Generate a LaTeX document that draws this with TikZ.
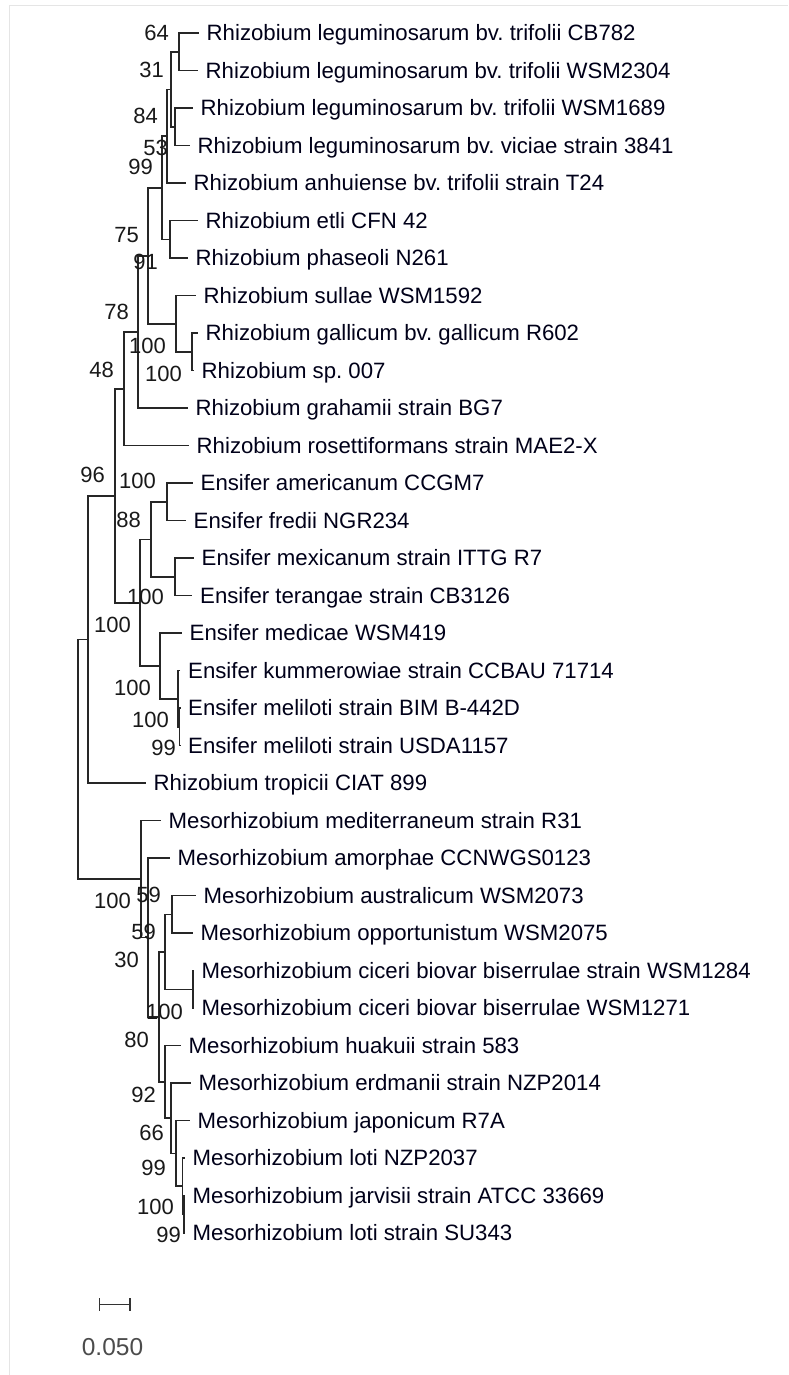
\documentclass[tikz,border=0pt]{standalone}
\usepackage{fontspec}
\setmainfont{Liberation Sans}
\frenchspacing
\begin{document}
\begin{tikzpicture}[x=1pt,y=-1pt,
  br/.style={line width=1.6pt, draw=black!85},
  leaf/.style={anchor=base west, inner sep=0pt, font=\fontsize{22.2}{26}\selectfont, text=black!90!blue},
  boot/.style={anchor=base east, inner sep=0pt, font=\fontsize{22}{26}\selectfont, text=black!90},
  scalelbl/.style={anchor=base, inner sep=0pt, font=\fontsize{24.5}{28}\selectfont, text=black!70}]
\useasboundingbox (0,0) rectangle (788,1375);
\fill[white] (0,0) rectangle (788,1375);
\draw[black!10, line width=1pt] (9,1375) -- (9,6) -- (788,6);

% leaves: index / branch end x / label
\foreach \i/\xe/\txt in {
 1/198.5/{Rhizobium leguminosarum bv. trifolii CB782},
 2/197.5/{Rhizobium leguminosarum bv. trifolii WSM2304},
 3/192.5/{Rhizobium leguminosarum bv. trifolii WSM1689},
 4/189.5/{Rhizobium leguminosarum bv. viciae strain 3841},
 5/185.5/{Rhizobium anhuiense bv. trifolii strain T24},
 6/197.5/{Rhizobium etli CFN 42},
 7/187.5/{Rhizobium phaseoli N261},
 8/195.5/{Rhizobium sullae WSM1592},
 9/197.5/{Rhizobium gallicum bv. gallicum R602},
 10/193.5/{Rhizobium sp. 007},
 11/187.5/{Rhizobium grahamii strain BG7},
 12/188.5/{Rhizobium rosettiformans strain MAE2-X},
 13/192.5/{Ensifer americanum CCGM7},
 14/185.5/{Ensifer fredii NGR234},
 15/193.5/{Ensifer mexicanum strain ITTG R7},
 16/192/{Ensifer terangae strain CB3126},
 17/181.5/{Ensifer medicae WSM419},
 18/180/{Ensifer kummerowiae strain CCBAU 71714},
 19/180/{Ensifer meliloti strain BIM B-442D},
 20/180/{Ensifer meliloti strain USDA1157},
 21/145.5/{Rhizobium tropicii CIAT 899},
 22/160.5/{Mesorhizobium mediterraneum strain R31},
 23/169.5/{Mesorhizobium amorphae CCNWGS0123},
 24/195.5/{Mesorhizobium australicum WSM2073},
 25/192.5/{Mesorhizobium opportunistum WSM2075},
 26/193.5/{Mesorhizobium ciceri biovar biserrulae strain WSM1284},
 27/193.5/{Mesorhizobium ciceri biovar biserrulae WSM1271},
 28/180.5/{Mesorhizobium huakuii strain 583},
 29/190.5/{Mesorhizobium erdmanii strain NZP2014},
 30/189.5/{Mesorhizobium japonicum R7A},
 31/184.5/{Mesorhizobium loti NZP2037},
 32/184.5/{Mesorhizobium jarvisii strain ATCC 33669},
 33/184.5/{Mesorhizobium loti strain SU343}}{
  \coordinate (l\i) at (\xe, {33+37.5*(\i-1)});
  \node[leaf] (t\i) at ({\xe+8}, {33+37.5*(\i-1)+7.9}) {\txt};
}

% internal nodes
\coordinate (A) at (179,52);
\coordinate (B) at (175,127);
\coordinate (C) at (171,89.5);
\coordinate (D) at (167,136.25);
\coordinate (E) at (170,239.5);
\coordinate (F) at (162,187.9);
\coordinate (H9) at (192,352);
\coordinate (H) at (176,324);
\coordinate (G) at (148,256);
\coordinate (I) at (138,332);
\coordinate (J) at (124,389);
\coordinate (E1) at (167,502);
\coordinate (E2) at (175,577);
\coordinate (L) at (151,539.5);
\coordinate (N19) at (179.5,727);
\coordinate (N18) at (178,699);
\coordinate (M) at (160,666);
\coordinate (N) at (140,603);
\coordinate (K) at (115,496);
\coordinate (O) at (88,639.5);
\coordinate (P1) at (172,914.5);
\coordinate (P2) at (193,989.5);
\coordinate (P) at (165,952);
\coordinate (Z) at (184,1214.5);
\coordinate (Y) at (182.5,1186);
\coordinate (Q) at (176,1153.5);
\coordinate (R) at (171,1118);
\coordinate (S) at (165,1082);
\coordinate (T) at (159,1017);
\coordinate (U) at (148,937.5);
\coordinate (V) at (141,879);
\coordinate (root) at (78,759);

% branches
\draw[br] (l1) -| (A) |- (l2);
\draw[br] (l3) -| (B) |- (l4);
\draw[br] (A) -| (C) |- (B);
\draw[br] (C) -| (D) |- (l5);
\draw[br] (l6) -| (E) |- (l7);
\draw[br] (D) -| (F) |- (E);
\draw[br] (l9) -| (H9) |- (l10);
\draw[br] (l8) -| (H) |- (H9);
\draw[br] (F) -| (G) |- (H);
\draw[br] (G) -| (I) |- (l11);
\draw[br] (I) -| (J) |- (l12);
\draw[br] (l13) -| (E1) |- (l14);
\draw[br] (l15) -| (E2) |- (l16);
\draw[br] (E1) -| (L) |- (E2);
\draw[br] (l19) -| (N19) |- (l20);
\draw[br] (l18) -| (N18) |- (N19);
\draw[br] (l17) -| (M) |- (N18);
\draw[br] (L) -| (N) |- (M);
\draw[br] (J) -| (K) |- (N);
\draw[br] (K) -| (O) |- (l21);
\draw[br] (l24) -| (P1) |- (l25);
\draw[br] (l26) -| (P2) |- (l27);
\draw[br] (P1) -| (P) |- (P2);
\draw[br] (l32) -| (Z) |- (l33);
\draw[br] (l31) -| (Y) |- (Z);
\draw[br] (l30) -| (Q) |- (Y);
\draw[br] (l29) -| (R) |- (Q);
\draw[br] (l28) -| (S) |- (R);
\draw[br] (P) -| (T) |- (S);
\draw[br] (l23) -| (U) |- (T);
\draw[br] (l22) -| (V) |- (U);
\draw[br] (O) -| (root) |- (V);

% bootstrap values: right x / centre y / value
\foreach \k/\bx/\by/\v in {
 1/168/33/64, 2/163/70/31, 3/157/116/84, 4/167/148/53, 5/152/167/99,
 6/138/235/75, 7/157/262/91, 8/128/312/78, 9/165/346/100, 10/181/374/100,
 11/113/370/48, 12/104/475/96, 13/155/481/100, 14/140/520/88, 15/163/597/100,
 16/130/625/100, 17/150/688/100, 18/168/720/100, 19/175/748/99, 20/130/901/100,
 21/160/895/59, 22/155/932/59, 23/138/960/30, 24/182/1012/100, 25/148/1040/80,
 26/155/1095/92, 27/163/1133/66, 28/165/1168/99, 29/173/1207/100, 30/180/1235/99}{
  \node[boot] (bs\k) at ({\bx+1}, {\by+7.9}) {\v};
}

% scale bar
\coordinate (s1) at (99.3,1304.3);
\coordinate (s2) at (130,1304.3);
\draw[line width=1.6pt, black!80] (s1) -- (s2);
\draw[line width=1.6pt, black!80] (s1) ++(0,-6.3) -- ++(0,12.6);
\draw[line width=1.6pt, black!80] (s2) ++(0,-6.3) -- ++(0,12.6);
\node[scalelbl] (sl) at (112.5,1355) {0.050};
\end{tikzpicture}
\end{document}
